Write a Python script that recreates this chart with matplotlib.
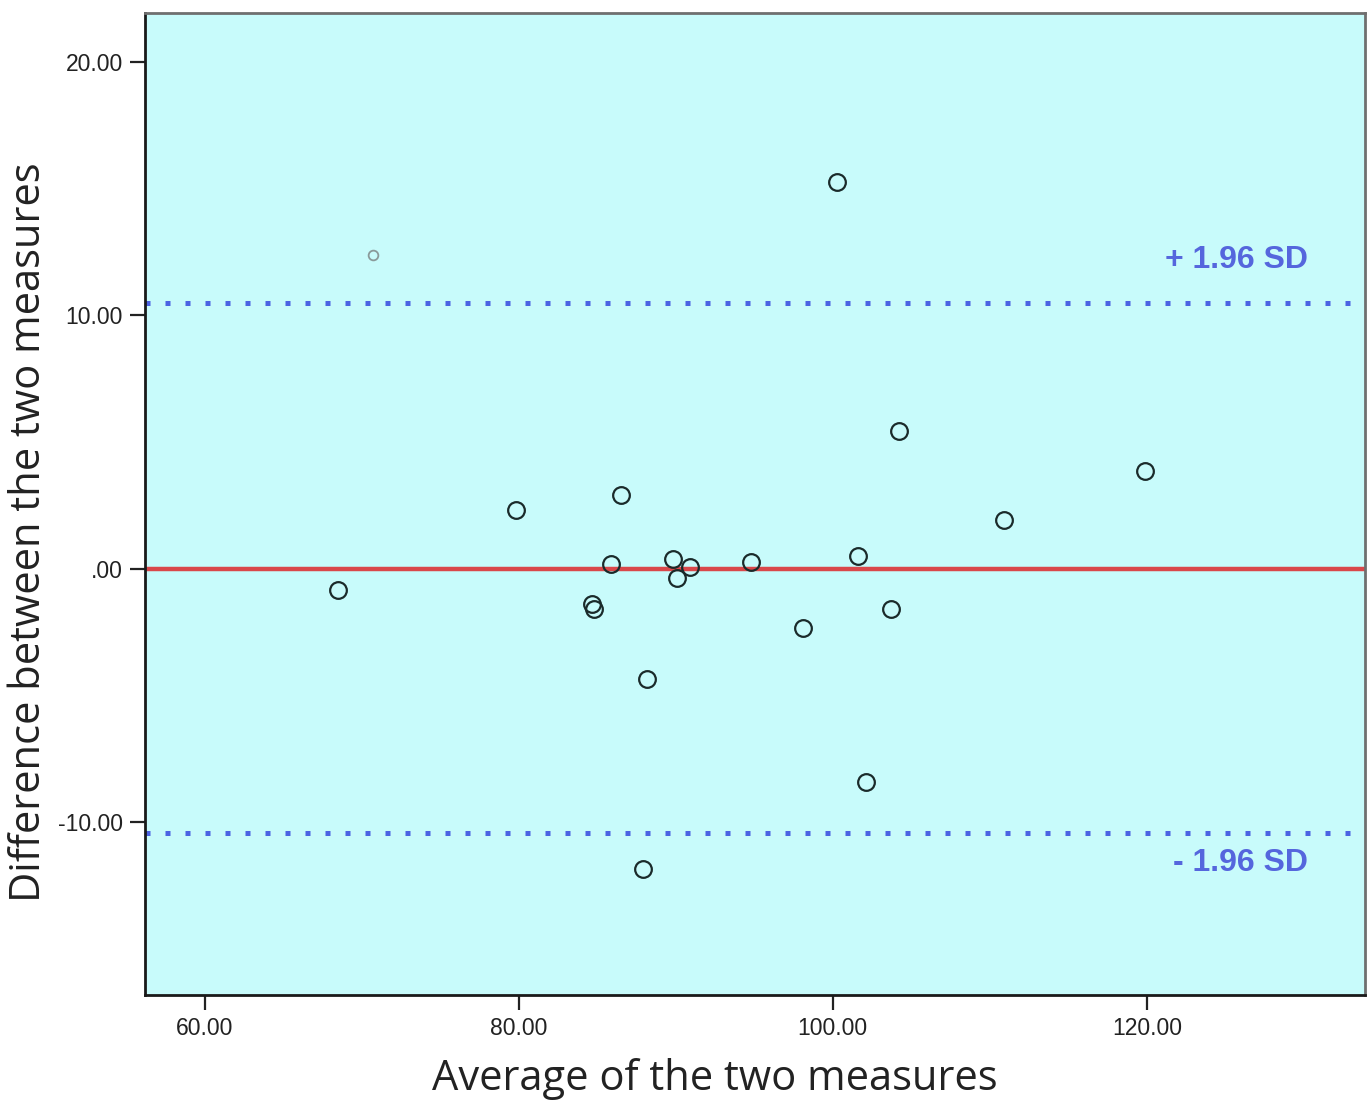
"""Bland-Altman style plot: difference vs average of two measures."""

import matplotlib

matplotlib.use("Agg")
import matplotlib.pyplot as plt

BG = "#c8fbfb"
RED = "#d9474a"
BLUE = "#4b63e3"
LABEL_BLUE = "#5566dd"

# average of the two measures / difference between them
avg = [68.5, 79.8, 86.5, 85.9, 84.7, 84.8, 88.2, 87.9, 89.8, 90.1, 90.9,
       94.8, 98.1, 100.3, 101.6, 102.1, 103.7, 104.2, 110.9, 119.9]
diff = [-0.83, 2.33, 2.92, 0.2, -1.38, -1.58, -4.34, -11.88, 0.36, -0.36, 0.08,
        0.28, -2.33, 15.28, 0.51, -8.41, -1.58, 5.45, 1.9, 3.87]

# the one faint point drawn smaller in grey
faint_avg = [70.74]
faint_diff = [12.40]

mean_diff = 0.0
upper_loa = 10.5
lower_loa = -10.45

xticks = [60, 80, 100, 120]
xticklabels = ["60.00", "80.00", "100.00", "120.00"]
yticks = [-10, 0, 10, 20]
yticklabels = ["-10.00", ".00", "10.00", "20.00"]

fig = plt.figure(figsize=(13.7, 11.04), dpi=100)
ax = fig.add_axes([0.1058, 0.0987, 0.8906, 0.8895])
ax.set_facecolor(BG)

ax.axhline(mean_diff, color=RED, lw=3.2, zorder=2)
for y in (upper_loa, lower_loa):
    ax.axhline(y, color=BLUE, lw=3.6, ls=(0, (1, 3)),
               dash_capstyle="butt", zorder=2)

ax.plot(avg, diff, "o", ms=12, mfc="none", mec="#1a2a2a", mew=1.6, zorder=3)
ax.plot(faint_avg, faint_diff, "o", ms=7, mfc="none", mec="#8a9a9a", mew=1.3,
        zorder=3)

ax.text(0.953, 0.748, "+ 1.96 SD", transform=ax.transAxes, ha="right",
        va="center", fontsize=23, fontweight="bold", color=LABEL_BLUE,
        family="Liberation Sans")
ax.text(0.953, 0.134, "- 1.96 SD", transform=ax.transAxes, ha="right",
        va="center", fontsize=23, fontweight="bold", color=LABEL_BLUE,
        family="Liberation Sans")

ax.set_xlim(56.2, 133.9)
ax.set_ylim(-16.84, 21.94)
ax.set_xticks(xticks)
ax.set_xticklabels(xticklabels)
ax.set_yticks(yticks)
ax.set_yticklabels(yticklabels)
ax.tick_params(direction="out", length=11, width=1.6, labelsize=16.5,
               colors="#222222", pad=5)
for lab in ax.get_xticklabels() + ax.get_yticklabels():
    lab.set_family("Liberation Sans")

ax.set_xlabel("Average of the two measures", fontsize=30, family="Open Sans",
              color="#222222")
ax.set_ylabel("Difference between the two measures", fontsize=30,
              family="Open Sans", color="#222222")
ax.xaxis.set_label_coords(0.467, -0.064)
ax.yaxis.set_label_coords(-0.078, 0.471)

for side in ("left", "bottom"):
    ax.spines[side].set_color("#1a1a1a")
    ax.spines[side].set_linewidth(2)
for side in ("top", "right"):
    ax.spines[side].set_color("#6f6f6f")
    ax.spines[side].set_linewidth(2)

fig.savefig("out.png", dpi=100, facecolor="white")
